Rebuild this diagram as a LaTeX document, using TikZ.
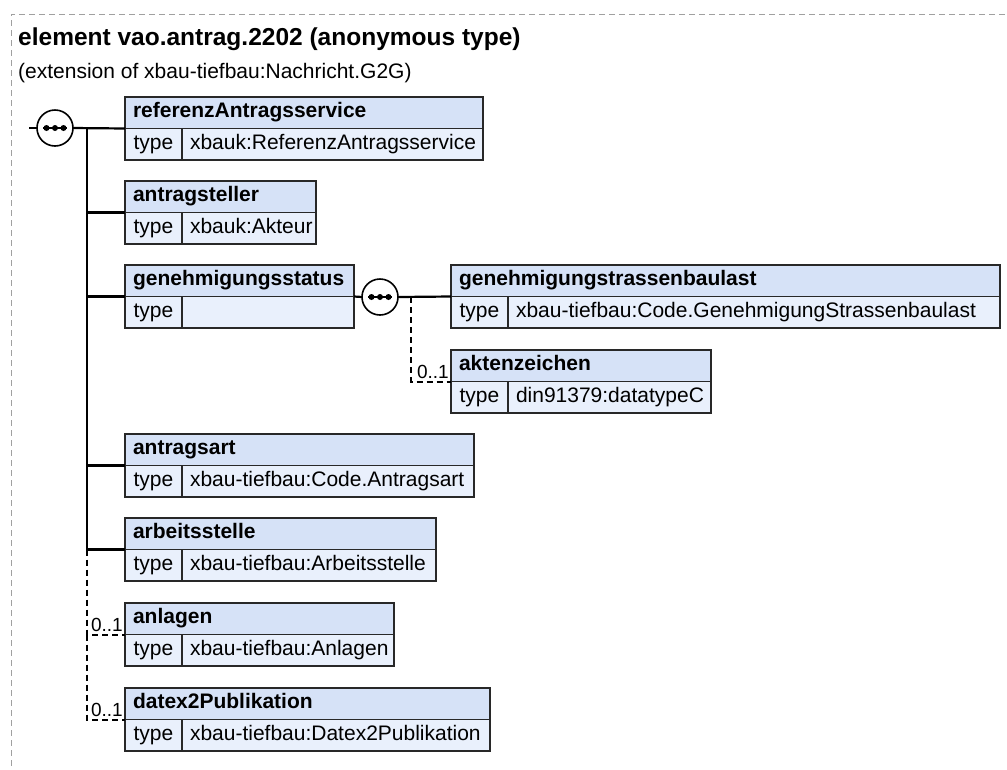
\documentclass[tikz,border=0pt]{standalone}
\usepackage{fontspec}
\setmainfont{Liberation Sans}
\usetikzlibrary{positioning}
\definecolor{hdrblue}{RGB}{214,226,247}
\definecolor{rowblue}{RGB}{233,240,252}
\definecolor{boxline}{RGB}{40,40,40}
\definecolor{framegray}{RGB}{160,160,160}
\newcommand{\elfont}{\fontsize{21}{24}\selectfont}
% one element box: name, x, y, width, header, type
\newcommand{\xelem}[6]{%
  \node[hdr] (#1) at (#2,#3) {\makebox[\dimexpr#4pt-16pt\relax][l]{#5}};
  \node[tlab] (#1-t) at (#1.south west) {type};
  \node[tval] (#1-v) at (#1-t.north east) {\makebox[\dimexpr#4pt-73pt\relax][l]{#6}};
}
\newcommand{\seqdots}[1]{%
  \draw[line width=1.4pt] ([xshift=-12pt]#1.center) -- ([xshift=12pt]#1.center);
  \foreach \dx in {-8.5,0,8.5} \fill ([xshift=\dx pt]#1.center) circle (3pt);
}
\tikzset{
  dashframe/.style={framegray,line width=0.9pt,dash pattern=on 6pt off 4pt},
  hdr/.style={draw=boxline,fill=hdrblue,line width=1.8pt,anchor=north west,minimum height=31.5pt,inner xsep=8pt,inner ysep=0pt,outer sep=0pt,text height=15pt,text depth=5pt,font=\elfont\bfseries},
  tlab/.style={draw=boxline,fill=rowblue,line width=1.8pt,anchor=north west,minimum height=31.5pt,minimum width=57pt,inner sep=0pt,outer sep=0pt,text height=15pt,text depth=5pt,font=\elfont},
  tval/.style={tlab,minimum width=0pt,inner xsep=8pt},
  seq/.style={circle,draw,fill=white,line width=1.6pt,minimum size=36pt,inner sep=0pt,outer sep=0pt},
  conn/.style={line width=2.2pt},
  opt/.style={line width=2pt,dash pattern=on 6pt off 4pt},
  occ/.style={font=\fontsize{19}{20}\selectfont,inner sep=0pt,anchor=base east}
}
\begin{document}
\begin{tikzpicture}[x=1pt,y=-1pt]
  \useasboundingbox (0,0) rectangle (1007,769);
  \draw[dashframe] (1005,14) -- (11,14) -- (11,769);
  \node[anchor=base west,inner sep=0pt,font=\fontsize{24.5}{28}\selectfont\bfseries] (title) at (18,45) {element vao.antrag.2202 (anonymous type)};
  \node[anchor=base west,inner sep=0pt,font=\elfont] (subtitle) at (18,78) {(extension of xbau-tiefbau:Nachricht.G2G)};

  % sequence of the element
  \node[seq] (seq1) at (55,128) {};
  \seqdots{seq1}
  \coordinate (in) at (29,128);
  \coordinate (tr) at (87,128);

  \xelem{ref}{125}{97}{358}{referenzAntragsservice}{xbauk:ReferenzAntragsservice}
  \xelem{anst}{125}{181}{191}{antragsteller}{xbauk:Akteur}
  \xelem{geh}{125}{265}{229}{genehmigungsstatus}{}
  \xelem{art}{125}{434}{349}{antragsart}{xbau-tiefbau:Code.Antragsart}
  \xelem{arb}{125}{518}{311}{arbeitsstelle}{xbau-tiefbau:Arbeitsstelle}
  \xelem{anl}{125}{603}{269}{anlagen}{xbau-tiefbau:Anlagen}
  \xelem{dx}{125}{688}{365}{datex2Publikation}{xbau-tiefbau:Datex2Publikation}

  \draw[conn] (in) -- (seq1.west);
  \draw[conn] (seq1.east) -- (ref.south west);
  \draw[conn] (tr) |- (anst.south west);
  \draw[conn] (tr) |- (geh.south west);
  \draw[conn] (tr) |- (art.south west);
  \draw[conn] (tr) |- (arb.south west);
  \draw[opt] (arb.south west -| tr) |- (anl.south west);
  \draw[opt] (anl.south west -| tr) |- (dx.south west);
  \node[occ] (anl-occ) at ([xshift=-2pt,yshift=3pt]anl.south west) {0..1};
  \node[occ] (dx-occ) at ([xshift=-2pt,yshift=3pt]dx.south west) {0..1};

  % sequence inside genehmigungsstatus
  \node[seq] (seq2) at (380,297) {};
  \seqdots{seq2}
  \coordinate (tr2) at (411,297);
  \xelem{gsb}{451}{265}{549}{genehmigungstrassenbaulast}{xbau-tiefbau:Code.GenehmigungStrassenbaulast}
  \xelem{akz}{451}{350}{260}{aktenzeichen}{din91379:datatypeC}

  \draw[conn] (geh.south east) -- (seq2.west);
  \draw[conn] (seq2.east) -- (gsb.south west);
  \draw[opt] (tr2) |- (akz.south west);
  \node[occ] (akz-occ) at ([xshift=-2pt,yshift=3pt]akz.south west) {0..1};
\end{tikzpicture}
\end{document}
